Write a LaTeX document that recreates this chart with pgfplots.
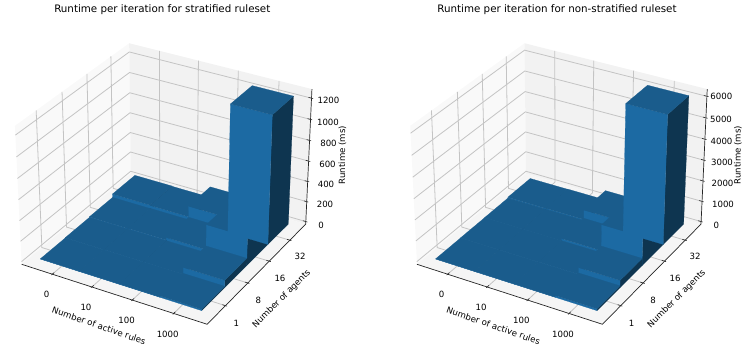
\documentclass[border=0pt]{standalone}
\usepackage{fontspec}
\setmainfont{DejaVu Sans}
\usepackage{pgfplots}
\pgfplotsset{compat=1.18}

\definecolor{bartop}{HTML}{1A5C8C}
\definecolor{barfront}{HTML}{1C6AA3}
\definecolor{barside}{HTML}{0E3550}
\definecolor{gridc}{HTML}{C4C4C4}

% one polygon or polyline given by its data corners (x y z)
\newcommand{\poly}[2]{%
  \addplot[forget plot,mark=none,#1] table[row sep=\\,
    x expr={prx(\thisrow{x},\thisrow{y},\thisrow{z})},
    y expr={pry(\thisrow{x},\thisrow{y},\thisrow{z})}] {x y z\\ #2};
}

% bar3d cell: rule index, agent index, height
\newcommand{\barcube}[3]{%
  \addplot[forget plot,mark=none,fill=barside,draw=barside,line width=0.2pt] table[row sep=\\,
    x expr={prx(#1+\thisrow{u},#2+\thisrow{v},#3*\thisrow{w})},
    y expr={pry(#1+\thisrow{u},#2+\thisrow{v},#3*\thisrow{w})}]
    {u v w\\ 1 0 0\\ 1 1 0\\ 1 1 1\\ 1 0 1\\ 1 0 0\\};
  \addplot[forget plot,mark=none,fill=barfront,draw=barfront,line width=0.2pt] table[row sep=\\,
    x expr={prx(#1+\thisrow{u},#2+\thisrow{v},#3*\thisrow{w})},
    y expr={pry(#1+\thisrow{u},#2+\thisrow{v},#3*\thisrow{w})}]
    {u v w\\ 0 0 0\\ 1 0 0\\ 1 0 1\\ 0 0 1\\ 0 0 0\\};
  \addplot[forget plot,mark=none,fill=bartop,draw=bartop,line width=0.2pt] table[row sep=\\,
    x expr={prx(#1+\thisrow{u},#2+\thisrow{v},#3*\thisrow{w})},
    y expr={pry(#1+\thisrow{u},#2+\thisrow{v},#3*\thisrow{w})}]
    {u v w\\ 0 0 1\\ 1 0 1\\ 1 1 1\\ 0 1 1\\ 0 0 1\\};
}

% panes, x and y grid, axis lines and their ticks: lower and upper z of the panes
% the panes run from -0.2917 to 4.2917 in x and y
\newcommand{\drawpanes}[2]{%
  \poly{fill=white!97.5!black,draw=none}{-0.2917 -0.2917 #1\\ -0.2917 4.2917 #1\\ -0.2917 4.2917 #2\\ -0.2917 -0.2917 #2\\}
  \poly{fill=white!95!black,draw=none}{-0.2917 4.2917 #1\\ 4.2917 4.2917 #1\\ 4.2917 4.2917 #2\\ -0.2917 4.2917 #2\\}
  \poly{fill=white!96.25!black,draw=none}{-0.2917 -0.2917 #1\\ 4.2917 -0.2917 #1\\ 4.2917 4.2917 #1\\ -0.2917 4.2917 #1\\}
  \pgfplotsinvokeforeach{0.5,1.5,2.5,3.5}{
    \poly{gridc,line width=0.8pt}{##1 -0.2917 #1\\ ##1 4.2917 #1\\ ##1 4.2917 #2\\}
    \poly{gridc,line width=0.8pt}{4.2917 ##1 #1\\ -0.2917 ##1 #1\\ -0.2917 ##1 #2\\}
  }
  \poly{black!85,line width=0.7pt}{-0.2917 -0.2917 #1\\ 4.2917 -0.2917 #1\\ 4.2917 4.2917 #1\\ 4.2917 4.2917 #2\\}
  \pgfplotsinvokeforeach{0.5,1.5,2.5,3.5}{
    \poly{black!85,line width=0.6pt}{##1 -0.33 #1\\ ##1 -0.22 #1\\}
    \poly{black!85,line width=0.6pt}{4.33 ##1 #1\\ 4.22 ##1 #1\\}
  }
}
% one z tick with its grid line
\newcommand{\ztick}[1]{%
  \poly{gridc,line width=0.8pt}{-0.2917 -0.2917 #1\\ -0.2917 4.2917 #1\\ 4.2917 4.2917 #1\\}
  \poly{black!85,line width=0.6pt}{4.33 4.2917 #1\\ 4.22 4.2917 #1\\}
}

\pgfplotsset{canvas/.style={
  at={(0,0)},anchor=south west,
  width=748pt,height=353pt,scale only axis,
  xmin=0,xmax=748,ymin=0,ymax=353,y dir=reverse,
  axis lines=none,ticks=none,clip=false}}

\begin{document}
\fontsize{8.6}{10}\selectfont
\begin{tikzpicture}[declare function={
  nx(\x)=(\x-2)/2.2;
  nz(\z)=0.75*(2*\z/\Rz-1);
  persp(\x,\y,\z)=17.5/(17.5-(0.4330127*nx(\x)-0.75*nx(\y)+0.5*nz(\z)));
  prx(\x,\y,\z)=\cx+102*(0.8660254*nx(\x)+0.5*nx(\y))*persp(\x,\y,\z);
  pry(\x,\y,\z)=177-101*(-0.25*nx(\x)+0.4330127*nx(\y)+0.8660254*nz(\z))*persp(\x,\y,\z);
}]
\path[use as bounding box] (0,0) rectangle (748pt,353pt);

% stratified ruleset
\def\Rz{1258}\def\cx{166.3}
\begin{axis}[canvas]
  \drawpanes{-26.2}{1284.2}
  \pgfplotsinvokeforeach{0,200,400,600,800,1000,1200}{\ztick{#1}}
  \barcube{0}{3}{45}\barcube{1}{3}{42}\barcube{2}{3}{148}
  \barcube{0}{2}{10}\barcube{1}{2}{12}\barcube{2}{2}{37}\barcube{3}{2}{282}
  \barcube{3}{3}{1240}
  \barcube{0}{1}{4}\barcube{1}{1}{5}\barcube{2}{1}{5}\barcube{3}{1}{72}
  \barcube{0}{0}{1}\barcube{1}{0}{2}\barcube{2}{0}{3}\barcube{3}{0}{14}
  \node[font=\fontsize{10.3}{12}\selectfont] at (axis cs:162.3,10) {Runtime per iteration for stratified ruleset};
  \node at (axis cs:46.7,294) {0};
  \node at (axis cs:86,307) {10};
  \node at (axis cs:126.7,320.7) {100};
  \node at (axis cs:167.7,334) {1000};
  \node at (axis cs:236.3,323.3) {1};
  \node at (axis cs:258.3,300.7) {8};
  \node at (axis cs:280,278.3) {16};
  \node at (axis cs:300,256.3) {32};
  \node at (axis cs:321,225) {0};
  \node at (axis cs:325,204.5) {200};
  \node at (axis cs:326,184.5) {400};
  \node at (axis cs:327.5,164) {600};
  \node at (axis cs:328.5,143) {800};
  \node at (axis cs:328,122) {1000};
  \node at (axis cs:328.5,100.5) {1200};
  \node[rotate=-19] at (axis cs:99,325.7) {Number of active rules};
  \node[rotate=45] at (axis cs:281.7,299) {Number of agents};
  \node[rotate=90] at (axis cs:342.3,155) {Runtime (ms)};
\end{axis}

% non-stratified ruleset
\def\Rz{6200}\def\cx{561.6}
\begin{axis}[canvas]
  \drawpanes{-129.2}{6329.2}
  \pgfplotsinvokeforeach{0,1000,2000,3000,4000,5000,6000}{\ztick{#1}}
  \barcube{0}{3}{60}\barcube{1}{3}{70}\barcube{2}{3}{540}
  \barcube{0}{2}{15}\barcube{1}{2}{20}\barcube{2}{2}{130}\barcube{3}{2}{1390}
  \barcube{3}{3}{6130}
  \barcube{0}{1}{10}\barcube{1}{1}{15}\barcube{2}{1}{25}\barcube{3}{1}{350}
  \barcube{0}{0}{5}\barcube{1}{0}{5}\barcube{2}{0}{8}\barcube{3}{0}{90}
  \node[font=\fontsize{10.3}{12}\selectfont] at (axis cs:557,10) {Runtime per iteration for non-stratified ruleset};
  \node at (axis cs:441.7,294) {0};
  \node at (axis cs:481,307) {10};
  \node at (axis cs:521.3,320.7) {100};
  \node at (axis cs:563,334) {1000};
  \node at (axis cs:631.7,323.3) {1};
  \node at (axis cs:653,300.7) {8};
  \node at (axis cs:675,278.3) {16};
  \node at (axis cs:695,256.3) {32};
  \node at (axis cs:716.3,225) {0};
  \node at (axis cs:723,204) {1000};
  \node at (axis cs:722.5,183.7) {2000};
  \node at (axis cs:722,162.5) {3000};
  \node at (axis cs:721.5,141) {4000};
  \node at (axis cs:721,119) {5000};
  \node at (axis cs:721.3,96.7) {6000};
  \node[rotate=-19] at (axis cs:493.3,325.7) {Number of active rules};
  \node[rotate=45] at (axis cs:676.7,299) {Number of agents};
  \node[rotate=90] at (axis cs:737.8,155) {Runtime (ms)};
\end{axis}
\end{tikzpicture}
\end{document}
